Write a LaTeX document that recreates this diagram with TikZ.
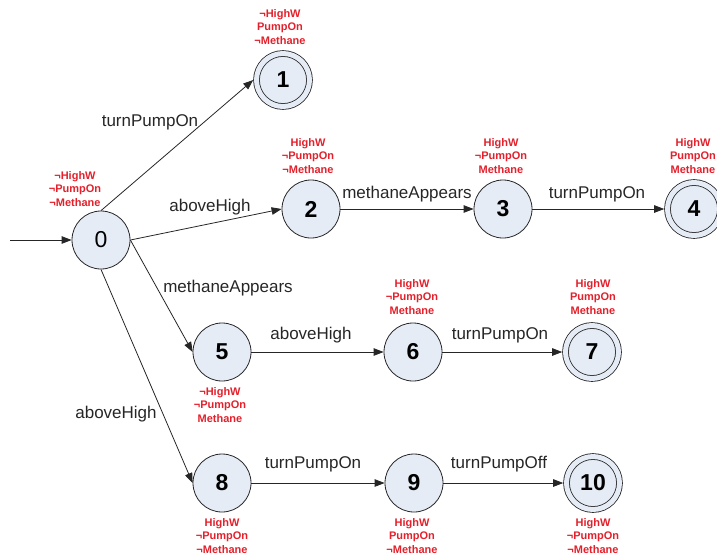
\documentclass[tikz,border=0pt]{standalone}
\usepackage{fontspec}
\setmainfont{Liberation Sans}
\usetikzlibrary{arrows.meta}
\definecolor{statefill}{HTML}{E6ECF6}
\definecolor{proplabel}{HTML}{E3202B}
\definecolor{ink}{HTML}{262626}
\begin{document}
\begin{tikzpicture}[x=1pt,y=-1pt,
  state/.style={circle,draw=ink,fill=statefill,line width=0.8pt,
    minimum size=58pt,inner sep=0pt,
    font=\fontsize{23}{25}\selectfont\bfseries},
  accept/.style={state,minimum size=53pt,double=statefill,
    double distance=5pt,outer sep=3.3pt},
  props/.style={text=proplabel,align=center,inner sep=0pt,
    font=\fontsize{11}{13.5}\selectfont\bfseries},
  lbl/.style={text=ink,inner sep=0pt,font=\fontsize{17}{19}\selectfont},
  edge/.style={draw=ink,line width=0.8pt,
    -{Triangle[length=10pt,width=7.5pt]}}]
\useasboundingbox (0,0) rectangle (717,558);

% states
\node[state,font=\fontsize{23}{25}\selectfont] (n0) at (101,240) {0};
\node[accept] (n1) at (283,80) {1};
\node[state]  (n2) at (311,209) {2};
\node[state]  (n3) at (503,209) {3};
\node[accept] (n4) at (694,209) {4};
\node[state]  (n5) at (222,352) {5};
\node[state]  (n6) at (413,352) {6};
\node[accept] (n7) at (592,352) {7};
\node[state]  (n8) at (222,483) {8};
\node[state]  (n9) at (414,483) {9};
\node[accept] (n10) at (593,483) {10};

% propositions holding in each state
\node[props] (p0) at (75,189) {¬HighW\\¬PumpOn\\¬Methane};
\node[props] (p1) at (280,27) {¬HighW\\PumpOn\\¬Methane};
\node[props] (p2) at (308,156) {HighW\\¬PumpOn\\¬Methane};
\node[props] (p3) at (501,156) {HighW\\¬PumpOn\\Methane};
\node[props] (p4) at (693,156) {HighW\\PumpOn\\Methane};
\node[props] (p5) at (220,405) {¬HighW\\¬PumpOn\\Methane};
\node[props] (p6) at (412,297) {HighW\\¬PumpOn\\Methane};
\node[props] (p7) at (593,297) {HighW\\PumpOn\\Methane};
\node[props] (p8) at (222,536) {HighW\\¬PumpOn\\¬Methane};
\node[props] (p9) at (412,536) {HighW\\PumpOn\\¬Methane};
\node[props] (p10) at (593,536) {HighW\\¬PumpOn\\¬Methane};

% transitions
\coordinate (init) at (10,240);
\draw[edge] (init) -- (n0.west);
\draw[edge] (n0.north) -- (n1.west);
\draw[edge] (n0.east) -- (n2.west);
\draw[edge] (n2.east) -- (n3.west);
\draw[edge] (n3.east) -- (n4.west);
\draw[edge] (n0.east) -- (n5.west);
\draw[edge] (n5.east) -- (n6.west);
\draw[edge] (n6.east) -- (n7.west);
\draw[edge] (n0.south) -- (n8.west);
\draw[edge] (n8.east) -- (n9.west);
\draw[edge] (n9.east) -- (n10.west);

% transition labels
\node[lbl] (l01) at (150,122) {turnPumpOn};
\node[lbl] (l02) at (210,207) {aboveHigh};
\node[lbl] (l23) at (407,194) {methaneAppears};
\node[lbl] (l34) at (597,194) {turnPumpOn};
\node[lbl] (l05) at (228,288) {methaneAppears};
\node[lbl] (l56) at (311,335) {aboveHigh};
\node[lbl] (l67) at (500,335) {turnPumpOn};
\node[lbl] (l08) at (116,414) {aboveHigh};
\node[lbl] (l89) at (313,464) {turnPumpOn};
\node[lbl] (l910) at (499,464) {turnPumpOff};
\end{tikzpicture}
\end{document}
